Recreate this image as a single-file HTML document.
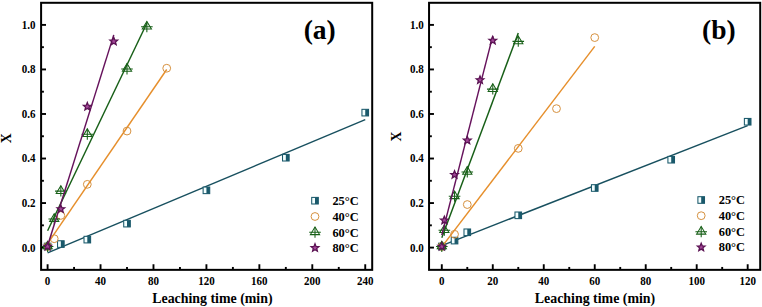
<!DOCTYPE html>
<html><head><meta charset="utf-8"><style>
html,body{margin:0;padding:0;background:#fff;}
svg{display:block;}
text{font-family:"Liberation Serif",serif;font-weight:bold;fill:#000;}
.tl{font-size:11.6px;}
.lg{font-size:12.4px;}
.pl{font-size:27.5px;}
.at{font-size:13.9px;}
</style></head><body>
<svg width="762" height="307" viewBox="0 0 762 307">
<rect width="762" height="307" fill="#fff"/>
<rect x="41.1" y="2.8" width="331.09999999999997" height="267.05" fill="none" stroke="#000" stroke-width="2"/>
<line x1="41.1" y1="247.60" x2="46.0" y2="247.60" stroke="#000" stroke-width="1.9"/>
<text transform="translate(35.40,251.50) scale(0.95,1.08)" text-anchor="end" class="tl">0.0</text>
<line x1="41.1" y1="203.06" x2="46.0" y2="203.06" stroke="#000" stroke-width="1.9"/>
<text transform="translate(35.40,206.96) scale(0.95,1.08)" text-anchor="end" class="tl">0.2</text>
<line x1="41.1" y1="158.52" x2="46.0" y2="158.52" stroke="#000" stroke-width="1.9"/>
<text transform="translate(35.40,162.42) scale(0.95,1.08)" text-anchor="end" class="tl">0.4</text>
<line x1="41.1" y1="113.98" x2="46.0" y2="113.98" stroke="#000" stroke-width="1.9"/>
<text transform="translate(35.40,117.88) scale(0.95,1.08)" text-anchor="end" class="tl">0.6</text>
<line x1="41.1" y1="69.44" x2="46.0" y2="69.44" stroke="#000" stroke-width="1.9"/>
<text transform="translate(35.40,73.34) scale(0.95,1.08)" text-anchor="end" class="tl">0.8</text>
<line x1="41.1" y1="24.90" x2="46.0" y2="24.90" stroke="#000" stroke-width="1.9"/>
<text transform="translate(35.40,28.80) scale(0.95,1.08)" text-anchor="end" class="tl">1.0</text>
<line x1="41.1" y1="225.33" x2="43.9" y2="225.33" stroke="#000" stroke-width="1.9"/>
<line x1="41.1" y1="180.79" x2="43.9" y2="180.79" stroke="#000" stroke-width="1.9"/>
<line x1="41.1" y1="136.25" x2="43.9" y2="136.25" stroke="#000" stroke-width="1.9"/>
<line x1="41.1" y1="91.71" x2="43.9" y2="91.71" stroke="#000" stroke-width="1.9"/>
<line x1="41.1" y1="47.17" x2="43.9" y2="47.17" stroke="#000" stroke-width="1.9"/>
<line x1="47.60" y1="269.85" x2="47.60" y2="264.25" stroke="#000" stroke-width="1.9"/>
<text transform="translate(47.60,284.60) scale(0.95,1.08)" text-anchor="middle" class="tl">0</text>
<line x1="100.54" y1="269.85" x2="100.54" y2="264.25" stroke="#000" stroke-width="1.9"/>
<text transform="translate(100.54,284.60) scale(0.95,1.08)" text-anchor="middle" class="tl">40</text>
<line x1="153.48" y1="269.85" x2="153.48" y2="264.25" stroke="#000" stroke-width="1.9"/>
<text transform="translate(153.48,284.60) scale(0.95,1.08)" text-anchor="middle" class="tl">80</text>
<line x1="206.42" y1="269.85" x2="206.42" y2="264.25" stroke="#000" stroke-width="1.9"/>
<text transform="translate(206.42,284.60) scale(0.95,1.08)" text-anchor="middle" class="tl">120</text>
<line x1="259.36" y1="269.85" x2="259.36" y2="264.25" stroke="#000" stroke-width="1.9"/>
<text transform="translate(259.36,284.60) scale(0.95,1.08)" text-anchor="middle" class="tl">160</text>
<line x1="312.30" y1="269.85" x2="312.30" y2="264.25" stroke="#000" stroke-width="1.9"/>
<text transform="translate(312.30,284.60) scale(0.95,1.08)" text-anchor="middle" class="tl">200</text>
<line x1="365.24" y1="269.85" x2="365.24" y2="264.25" stroke="#000" stroke-width="1.9"/>
<text transform="translate(365.24,284.60) scale(0.95,1.08)" text-anchor="middle" class="tl">240</text>
<line x1="74.07" y1="269.85" x2="74.07" y2="266.95" stroke="#000" stroke-width="1.9"/>
<line x1="127.01" y1="269.85" x2="127.01" y2="266.95" stroke="#000" stroke-width="1.9"/>
<line x1="179.95" y1="269.85" x2="179.95" y2="266.95" stroke="#000" stroke-width="1.9"/>
<line x1="232.89" y1="269.85" x2="232.89" y2="266.95" stroke="#000" stroke-width="1.9"/>
<line x1="285.83" y1="269.85" x2="285.83" y2="266.95" stroke="#000" stroke-width="1.9"/>
<line x1="338.77" y1="269.85" x2="338.77" y2="266.95" stroke="#000" stroke-width="1.9"/>
<rect x="429.05" y="2.8" width="331.15000000000003" height="267.05" fill="none" stroke="#000" stroke-width="2"/>
<line x1="429.05" y1="247.60" x2="433.95" y2="247.60" stroke="#000" stroke-width="1.9"/>
<text transform="translate(423.70,251.50) scale(0.95,1.08)" text-anchor="end" class="tl">0.0</text>
<line x1="429.05" y1="203.06" x2="433.95" y2="203.06" stroke="#000" stroke-width="1.9"/>
<text transform="translate(423.70,206.96) scale(0.95,1.08)" text-anchor="end" class="tl">0.2</text>
<line x1="429.05" y1="158.52" x2="433.95" y2="158.52" stroke="#000" stroke-width="1.9"/>
<text transform="translate(423.70,162.42) scale(0.95,1.08)" text-anchor="end" class="tl">0.4</text>
<line x1="429.05" y1="113.98" x2="433.95" y2="113.98" stroke="#000" stroke-width="1.9"/>
<text transform="translate(423.70,117.88) scale(0.95,1.08)" text-anchor="end" class="tl">0.6</text>
<line x1="429.05" y1="69.44" x2="433.95" y2="69.44" stroke="#000" stroke-width="1.9"/>
<text transform="translate(423.70,73.34) scale(0.95,1.08)" text-anchor="end" class="tl">0.8</text>
<line x1="429.05" y1="24.90" x2="433.95" y2="24.90" stroke="#000" stroke-width="1.9"/>
<text transform="translate(423.70,28.80) scale(0.95,1.08)" text-anchor="end" class="tl">1.0</text>
<line x1="429.05" y1="225.33" x2="431.85" y2="225.33" stroke="#000" stroke-width="1.9"/>
<line x1="429.05" y1="180.79" x2="431.85" y2="180.79" stroke="#000" stroke-width="1.9"/>
<line x1="429.05" y1="136.25" x2="431.85" y2="136.25" stroke="#000" stroke-width="1.9"/>
<line x1="429.05" y1="91.71" x2="431.85" y2="91.71" stroke="#000" stroke-width="1.9"/>
<line x1="429.05" y1="47.17" x2="431.85" y2="47.17" stroke="#000" stroke-width="1.9"/>
<line x1="441.80" y1="269.85" x2="441.80" y2="264.25" stroke="#000" stroke-width="1.9"/>
<text transform="translate(441.80,284.60) scale(0.95,1.08)" text-anchor="middle" class="tl">0</text>
<line x1="492.78" y1="269.85" x2="492.78" y2="264.25" stroke="#000" stroke-width="1.9"/>
<text transform="translate(492.78,284.60) scale(0.95,1.08)" text-anchor="middle" class="tl">20</text>
<line x1="543.76" y1="269.85" x2="543.76" y2="264.25" stroke="#000" stroke-width="1.9"/>
<text transform="translate(543.76,284.60) scale(0.95,1.08)" text-anchor="middle" class="tl">40</text>
<line x1="594.74" y1="269.85" x2="594.74" y2="264.25" stroke="#000" stroke-width="1.9"/>
<text transform="translate(594.74,284.60) scale(0.95,1.08)" text-anchor="middle" class="tl">60</text>
<line x1="645.72" y1="269.85" x2="645.72" y2="264.25" stroke="#000" stroke-width="1.9"/>
<text transform="translate(645.72,284.60) scale(0.95,1.08)" text-anchor="middle" class="tl">80</text>
<line x1="696.70" y1="269.85" x2="696.70" y2="264.25" stroke="#000" stroke-width="1.9"/>
<text transform="translate(696.70,284.60) scale(0.95,1.08)" text-anchor="middle" class="tl">100</text>
<line x1="747.68" y1="269.85" x2="747.68" y2="264.25" stroke="#000" stroke-width="1.9"/>
<text transform="translate(747.68,284.60) scale(0.95,1.08)" text-anchor="middle" class="tl">120</text>
<line x1="467.29" y1="269.85" x2="467.29" y2="266.95" stroke="#000" stroke-width="1.9"/>
<line x1="518.27" y1="269.85" x2="518.27" y2="266.95" stroke="#000" stroke-width="1.9"/>
<line x1="569.25" y1="269.85" x2="569.25" y2="266.95" stroke="#000" stroke-width="1.9"/>
<line x1="620.23" y1="269.85" x2="620.23" y2="266.95" stroke="#000" stroke-width="1.9"/>
<line x1="671.21" y1="269.85" x2="671.21" y2="266.95" stroke="#000" stroke-width="1.9"/>
<line x1="722.19" y1="269.85" x2="722.19" y2="266.95" stroke="#000" stroke-width="1.9"/>
<line x1="47.60" y1="252.81" x2="365.24" y2="119.61" stroke="#18505f" stroke-width="1.45"/>
<rect x="44.30" y="243.20" width="6.60" height="6.60" fill="#f4ffff" stroke="#1a596b" stroke-width="1.05"/><rect x="47.60" y="243.20" width="3.30" height="6.60" fill="#1a596b"/>
<rect x="57.54" y="240.76" width="6.60" height="6.60" fill="#f4ffff" stroke="#1a596b" stroke-width="1.05"/><rect x="60.84" y="240.76" width="3.30" height="6.60" fill="#1a596b"/>
<rect x="84.01" y="236.32" width="6.60" height="6.60" fill="#f4ffff" stroke="#1a596b" stroke-width="1.05"/><rect x="87.31" y="236.32" width="3.30" height="6.60" fill="#1a596b"/>
<rect x="123.71" y="220.33" width="6.60" height="6.60" fill="#f4ffff" stroke="#1a596b" stroke-width="1.05"/><rect x="127.01" y="220.33" width="3.30" height="6.60" fill="#1a596b"/>
<rect x="203.12" y="187.03" width="6.60" height="6.60" fill="#f4ffff" stroke="#1a596b" stroke-width="1.05"/><rect x="206.42" y="187.03" width="3.30" height="6.60" fill="#1a596b"/>
<rect x="282.53" y="154.40" width="6.60" height="6.60" fill="#f4ffff" stroke="#1a596b" stroke-width="1.05"/><rect x="285.83" y="154.40" width="3.30" height="6.60" fill="#1a596b"/>
<rect x="361.94" y="109.33" width="6.60" height="6.60" fill="#f4ffff" stroke="#1a596b" stroke-width="1.05"/><rect x="365.24" y="109.33" width="3.30" height="6.60" fill="#1a596b"/>
<line x1="47.60" y1="243.58" x2="166.72" y2="69.48" stroke="#e68f2c" stroke-width="1.45"/>
<circle cx="47.60" cy="246.50" r="3.9" fill="none" stroke="#d6913f" stroke-width="1"/>
<circle cx="54.22" cy="238.73" r="3.9" fill="none" stroke="#d6913f" stroke-width="1"/>
<circle cx="60.84" cy="215.42" r="3.9" fill="none" stroke="#d6913f" stroke-width="1"/>
<circle cx="87.31" cy="184.34" r="3.9" fill="none" stroke="#d6913f" stroke-width="1"/>
<circle cx="127.01" cy="131.06" r="3.9" fill="none" stroke="#d6913f" stroke-width="1"/>
<circle cx="166.72" cy="68.23" r="3.9" fill="none" stroke="#d6913f" stroke-width="1"/>
<line x1="47.60" y1="230.79" x2="146.86" y2="23.19" stroke="#175f17" stroke-width="1.45"/>
<path d="M47.60,241.20 L52.20,248.80 L43.00,248.80 Z" fill="none" stroke="#175f17" stroke-width="1.05" stroke-linejoin="miter"/><path d="M41.80,246.50 H53.40 M47.60,241.20 V252.00" stroke="#175f17" stroke-width="1.05" fill="none"/>
<path d="M54.22,213.78 L58.82,221.38 L49.62,221.38 Z" fill="none" stroke="#175f17" stroke-width="1.05" stroke-linejoin="miter"/><path d="M48.42,219.08 H60.02 M54.22,213.78 V224.58" stroke="#175f17" stroke-width="1.05" fill="none"/>
<path d="M60.84,185.81 L65.44,193.41 L56.23,193.41 Z" fill="none" stroke="#175f17" stroke-width="1.05" stroke-linejoin="miter"/><path d="M55.04,191.11 H66.64 M60.84,185.81 V196.61" stroke="#175f17" stroke-width="1.05" fill="none"/>
<path d="M87.31,128.87 L91.91,136.47 L82.71,136.47 Z" fill="none" stroke="#175f17" stroke-width="1.05" stroke-linejoin="miter"/><path d="M81.51,134.17 H93.11 M87.31,128.87 V139.67" stroke="#175f17" stroke-width="1.05" fill="none"/>
<path d="M127.01,63.60 L131.61,71.20 L122.41,71.20 Z" fill="none" stroke="#175f17" stroke-width="1.05" stroke-linejoin="miter"/><path d="M121.21,68.90 H132.81 M127.01,63.60 V74.40" stroke="#175f17" stroke-width="1.05" fill="none"/>
<path d="M146.86,21.42 L151.46,29.02 L142.26,29.02 Z" fill="none" stroke="#175f17" stroke-width="1.05" stroke-linejoin="miter"/><path d="M141.06,26.72 H152.66 M146.86,21.42 V32.22" stroke="#175f17" stroke-width="1.05" fill="none"/>
<line x1="47.60" y1="245.77" x2="113.78" y2="34.89" stroke="#66125c" stroke-width="1.45"/>
<polygon points="47.60,242.40 48.66,245.04 51.50,245.23 49.31,247.06 50.01,249.82 47.60,248.30 45.19,249.82 45.89,247.06 43.70,245.23 46.54,245.04" fill="#a4489a" stroke="#5a1252" stroke-width="1.25" stroke-linejoin="miter"/>
<polygon points="60.84,204.88 61.89,207.53 64.73,207.72 62.55,209.54 63.24,212.30 60.84,210.78 58.43,212.30 59.12,209.54 56.94,207.72 59.78,207.53" fill="#a4489a" stroke="#5a1252" stroke-width="1.25" stroke-linejoin="miter"/>
<polygon points="87.31,102.54 88.36,105.18 91.20,105.37 89.02,107.20 89.71,109.96 87.31,108.44 84.90,109.96 85.59,107.20 83.41,105.37 86.25,105.18" fill="#a4489a" stroke="#5a1252" stroke-width="1.25" stroke-linejoin="miter"/>
<polygon points="113.78,37.27 114.83,39.92 117.67,40.11 115.49,41.93 116.18,44.69 113.78,43.17 111.37,44.69 112.06,41.93 109.88,40.11 112.72,39.92" fill="#a4489a" stroke="#5a1252" stroke-width="1.25" stroke-linejoin="miter"/>
<line x1="441.80" y1="245.55" x2="747.68" y2="125.65" stroke="#18505f" stroke-width="1.45"/>
<rect x="438.50" y="243.20" width="6.60" height="6.60" fill="#f4ffff" stroke="#1a596b" stroke-width="1.05"/><rect x="441.80" y="243.20" width="3.30" height="6.60" fill="#1a596b"/>
<rect x="451.25" y="237.29" width="6.60" height="6.60" fill="#f4ffff" stroke="#1a596b" stroke-width="1.05"/><rect x="454.55" y="237.29" width="3.30" height="6.60" fill="#1a596b"/>
<rect x="463.99" y="228.99" width="6.60" height="6.60" fill="#f4ffff" stroke="#1a596b" stroke-width="1.05"/><rect x="467.29" y="228.99" width="3.30" height="6.60" fill="#1a596b"/>
<rect x="514.97" y="212.01" width="6.60" height="6.60" fill="#f4ffff" stroke="#1a596b" stroke-width="1.05"/><rect x="518.27" y="212.01" width="3.30" height="6.60" fill="#1a596b"/>
<rect x="591.44" y="184.70" width="6.60" height="6.60" fill="#f4ffff" stroke="#1a596b" stroke-width="1.05"/><rect x="594.74" y="184.70" width="3.30" height="6.60" fill="#1a596b"/>
<rect x="667.91" y="156.40" width="6.60" height="6.60" fill="#f4ffff" stroke="#1a596b" stroke-width="1.05"/><rect x="671.21" y="156.40" width="3.30" height="6.60" fill="#1a596b"/>
<rect x="744.38" y="118.44" width="6.60" height="6.60" fill="#f4ffff" stroke="#1a596b" stroke-width="1.05"/><rect x="747.68" y="118.44" width="3.30" height="6.60" fill="#1a596b"/>
<line x1="441.80" y1="246.82" x2="594.74" y2="46.43" stroke="#e68f2c" stroke-width="1.45"/>
<circle cx="441.80" cy="246.50" r="3.9" fill="none" stroke="#d6913f" stroke-width="1"/>
<circle cx="454.55" cy="234.29" r="3.9" fill="none" stroke="#d6913f" stroke-width="1"/>
<circle cx="467.29" cy="204.54" r="3.9" fill="none" stroke="#d6913f" stroke-width="1"/>
<circle cx="518.27" cy="148.38" r="3.9" fill="none" stroke="#d6913f" stroke-width="1"/>
<circle cx="556.50" cy="108.64" r="3.9" fill="none" stroke="#d6913f" stroke-width="1"/>
<circle cx="594.74" cy="37.60" r="3.9" fill="none" stroke="#d6913f" stroke-width="1"/>
<line x1="441.80" y1="237.64" x2="518.27" y2="32.94" stroke="#175f17" stroke-width="1.45"/>
<path d="M441.80,241.20 L446.40,248.80 L437.20,248.80 Z" fill="none" stroke="#175f17" stroke-width="1.05" stroke-linejoin="miter"/><path d="M436.00,246.50 H447.60 M441.80,241.20 V252.00" stroke="#175f17" stroke-width="1.05" fill="none"/>
<path d="M444.35,224.99 L448.95,232.59 L439.75,232.59 Z" fill="none" stroke="#175f17" stroke-width="1.05" stroke-linejoin="miter"/><path d="M438.55,230.29 H450.15 M444.35,224.99 V235.79" stroke="#175f17" stroke-width="1.05" fill="none"/>
<path d="M454.55,191.03 L459.15,198.63 L449.94,198.63 Z" fill="none" stroke="#175f17" stroke-width="1.05" stroke-linejoin="miter"/><path d="M448.75,196.33 H460.35 M454.55,191.03 V201.83" stroke="#175f17" stroke-width="1.05" fill="none"/>
<path d="M467.29,166.61 L471.89,174.21 L462.69,174.21 Z" fill="none" stroke="#175f17" stroke-width="1.05" stroke-linejoin="miter"/><path d="M461.49,171.91 H473.09 M467.29,166.61 V177.41" stroke="#175f17" stroke-width="1.05" fill="none"/>
<path d="M492.78,83.80 L497.38,91.40 L488.18,91.40 Z" fill="none" stroke="#175f17" stroke-width="1.05" stroke-linejoin="miter"/><path d="M486.98,89.10 H498.58 M492.78,83.80 V94.60" stroke="#175f17" stroke-width="1.05" fill="none"/>
<path d="M518.27,36.07 L522.87,43.67 L513.67,43.67 Z" fill="none" stroke="#175f17" stroke-width="1.05" stroke-linejoin="miter"/><path d="M512.47,41.37 H524.07 M518.27,36.07 V46.87" stroke="#175f17" stroke-width="1.05" fill="none"/>
<line x1="441.80" y1="235.09" x2="492.78" y2="35.84" stroke="#66125c" stroke-width="1.45"/>
<polygon points="441.80,242.40 442.86,245.04 445.70,245.23 443.51,247.06 444.21,249.82 441.80,248.30 439.39,249.82 440.09,247.06 437.90,245.23 440.74,245.04" fill="#a4489a" stroke="#5a1252" stroke-width="1.25" stroke-linejoin="miter"/>
<polygon points="444.35,216.20 445.41,218.85 448.25,219.04 446.06,220.86 446.76,223.62 444.35,222.10 441.94,223.62 442.64,220.86 440.45,219.04 443.29,218.85" fill="#a4489a" stroke="#5a1252" stroke-width="1.25" stroke-linejoin="miter"/>
<polygon points="454.55,170.69 455.60,173.34 458.44,173.53 456.26,175.35 456.95,178.11 454.55,176.59 452.14,178.11 452.83,175.35 450.65,173.53 453.49,173.34" fill="#a4489a" stroke="#5a1252" stroke-width="1.25" stroke-linejoin="miter"/>
<polygon points="467.29,136.28 468.35,138.93 471.19,139.12 469.00,140.94 469.70,143.70 467.29,142.18 464.88,143.70 465.58,140.94 463.39,139.12 466.23,138.93" fill="#a4489a" stroke="#5a1252" stroke-width="1.25" stroke-linejoin="miter"/>
<polygon points="480.04,75.90 481.09,78.54 483.93,78.73 481.75,80.56 482.44,83.32 480.04,81.80 477.63,83.32 478.32,80.56 476.14,78.73 478.98,78.54" fill="#a4489a" stroke="#5a1252" stroke-width="1.25" stroke-linejoin="miter"/>
<polygon points="492.78,36.38 493.84,39.03 496.68,39.22 494.49,41.04 495.19,43.80 492.78,42.28 490.37,43.80 491.07,41.04 488.88,39.22 491.72,39.03" fill="#a4489a" stroke="#5a1252" stroke-width="1.25" stroke-linejoin="miter"/>
<rect x="311.70" y="197.40" width="6.60" height="6.60" fill="#f4ffff" stroke="#1a596b" stroke-width="1.05"/><rect x="315.00" y="197.40" width="3.30" height="6.60" fill="#1a596b"/>
<text transform="translate(332.40,205.20) scale(1.0,1.08)" class="lg">25°C</text>
<circle cx="315.00" cy="216.50" r="3.9" fill="none" stroke="#d6913f" stroke-width="1"/>
<text transform="translate(332.40,221.00) scale(1.0,1.08)" class="lg">40°C</text>
<path d="M315.00,227.00 L319.60,234.60 L310.40,234.60 Z" fill="none" stroke="#175f17" stroke-width="1.05" stroke-linejoin="miter"/><path d="M309.20,232.30 H320.80 M315.00,227.00 V237.80" stroke="#175f17" stroke-width="1.05" fill="none"/>
<text transform="translate(332.40,236.80) scale(1.0,1.08)" class="lg">60°C</text>
<polygon points="315.00,243.80 316.06,246.44 318.90,246.63 316.71,248.46 317.41,251.22 315.00,249.70 312.59,251.22 313.29,248.46 311.10,246.63 313.94,246.44" fill="#a4489a" stroke="#5a1252" stroke-width="1.25" stroke-linejoin="miter"/>
<text transform="translate(332.40,252.40) scale(1.0,1.08)" class="lg">80°C</text>
<rect x="697.90" y="196.70" width="6.60" height="6.60" fill="#f4ffff" stroke="#1a596b" stroke-width="1.05"/><rect x="701.20" y="196.70" width="3.30" height="6.60" fill="#1a596b"/>
<text transform="translate(718.70,203.80) scale(1.0,1.08)" class="lg">25°C</text>
<circle cx="701.20" cy="215.70" r="3.9" fill="none" stroke="#d6913f" stroke-width="1"/>
<text transform="translate(718.70,219.70) scale(1.0,1.08)" class="lg">40°C</text>
<path d="M701.20,226.50 L705.80,234.10 L696.60,234.10 Z" fill="none" stroke="#175f17" stroke-width="1.05" stroke-linejoin="miter"/><path d="M695.40,231.80 H707.00 M701.20,226.50 V237.30" stroke="#175f17" stroke-width="1.05" fill="none"/>
<text transform="translate(718.70,236.00) scale(1.0,1.08)" class="lg">60°C</text>
<polygon points="701.20,243.20 702.26,245.84 705.10,246.03 702.91,247.86 703.61,250.62 701.20,249.10 698.79,250.62 699.49,247.86 697.30,246.03 700.14,245.84" fill="#a4489a" stroke="#5a1252" stroke-width="1.25" stroke-linejoin="miter"/>
<text transform="translate(718.70,251.40) scale(1.0,1.08)" class="lg">80°C</text>
<text x="303.70" y="38.60" class="pl">(a)</text>
<text x="702.00" y="39.20" class="pl">(b)</text>
<text x="212.40" y="303.20" text-anchor="middle" class="at">Leaching time (min)</text>
<text x="595.00" y="303.20" text-anchor="middle" class="at">Leaching time (min)</text>
<text transform="translate(11.2,138.3) rotate(-90)" text-anchor="middle" class="at">X</text>
<text transform="translate(400.9,136.5) rotate(-90)" text-anchor="middle" class="at">X</text>
</svg>
</body></html>
